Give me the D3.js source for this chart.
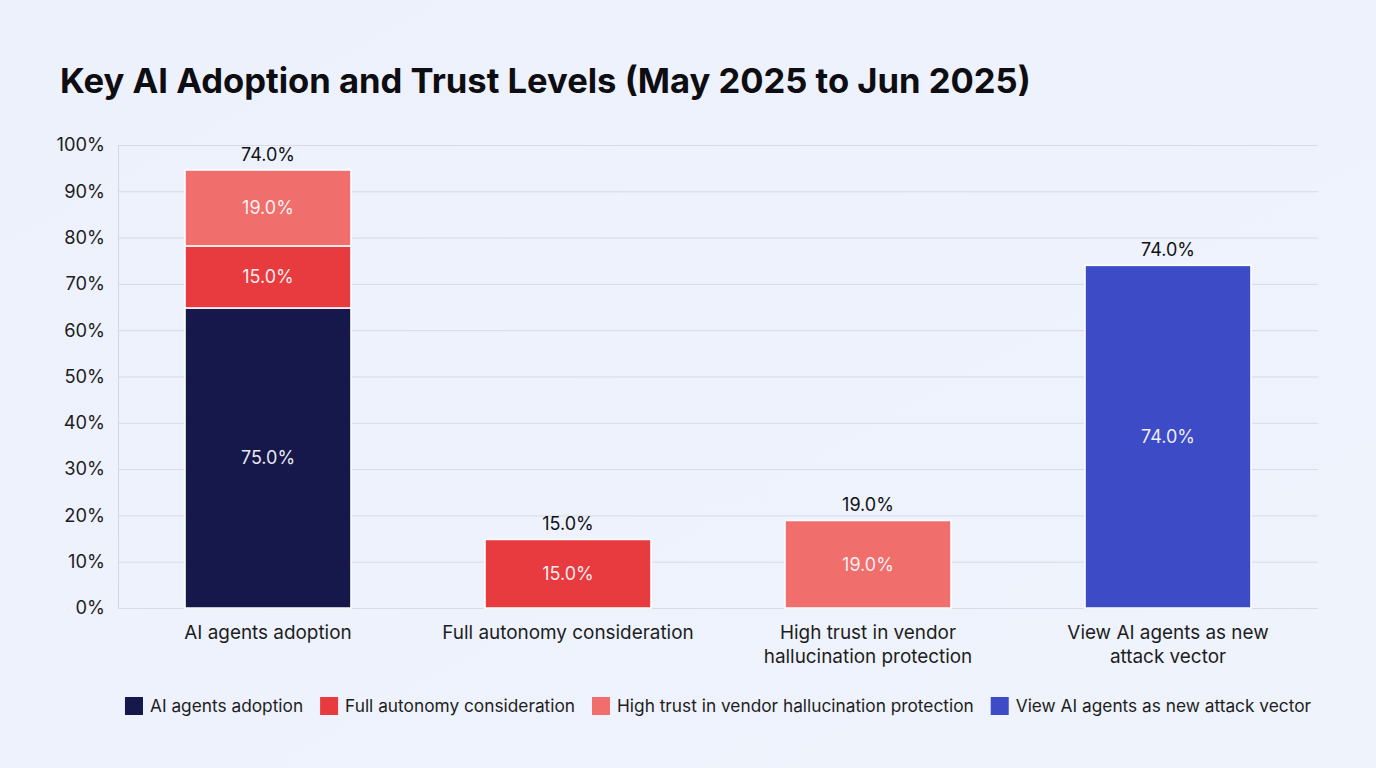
<!DOCTYPE html>
<html>
<head>
<meta charset="utf-8">
<script src="https://cdn.jsdelivr.net/npm/d3@7/dist/d3.min.js"></script>
<style>
  html, body { margin: 0; padding: 0; background: #eef2fc; }
  svg { display: block; }
</style>
</head>
<body>
<svg id="chart" width="1376" height="768"></svg>
<script>
// ---- data ----
const title = "Key AI Adoption and Trust Levels (May 2025 to Jun 2025)";
const categories = [
  ["AI agents adoption"],
  ["Full autonomy consideration"],
  ["High trust in vendor", "hallucination protection"],
  ["View AI agents as new", "attack vector"]
];
const seriesNames = [
  "AI agents adoption",
  "Full autonomy consideration",
  "High trust in vendor hallucination protection",
  "View AI agents as new attack vector"
];
const seriesColors = ["#16184c", "#e83b3f", "#f06e6c", "#3d4bc7"];
// segment heights as drawn, per category, per series
const segHeights = [
  [64.8, 13.4, 16.4, 0],
  [0, 14.8, 0, 0],
  [0, 0, 18.9, 0],
  [0, 0, 0, 74.0]
];
// labels shown inside segments
const segLabels = [
  [75.0, 15.0, 19.0, null],
  [null, 15.0, null, null],
  [null, null, 19.0, null],
  [null, null, null, 74.0]
];
// labels shown above bars
const topLabels = [74.0, 15.0, 19.0, 74.0];
const yTicks = [0, 10, 20, 30, 40, 50, 60, 70, 80, 90, 100];

(function () {
// ---- layout ----
const W = 1376, H = 768;
const mLeft = 118, mRight = 1318, mTop = 145, mBottom = 608;
const font = "Inter, 'Noto Sans', sans-serif";

const svg = d3.select("#chart");

const bg = svg.append("defs").append("linearGradient")
  .attr("id", "bg").attr("x1", 0).attr("y1", 0).attr("x2", 1).attr("y2", 1);
bg.append("stop").attr("offset", "0%").attr("stop-color", "#edf1fc");
bg.append("stop").attr("offset", "100%").attr("stop-color", "#eff3fc");
svg.append("rect").attr("width", W).attr("height", H).attr("fill", "url(#bg)");

svg.append("text")
  .attr("x", 60).attr("y", 93)
  .attr("font-family", font).attr("font-weight", 700)
  .attr("font-size", 34.6).attr("fill", "#0d0d12")
  .text(title);

const x = d3.scaleBand()
  .domain(d3.range(categories.length))
  .range([mLeft, mRight])
  .paddingInner(0.447).paddingOuter(0.2235);

const y = d3.scaleLinear().domain([0, 100]).range([mBottom, mTop]);

// grid
svg.append("g").selectAll("line").data(yTicks).join("line")
  .attr("x1", mLeft).attr("x2", mRight)
  .attr("y1", d => y(d) + 0.5).attr("y2", d => y(d) + 0.5)
  .attr("stroke", "#d8dbe7").attr("stroke-width", 1);
svg.append("line")
  .attr("x1", mLeft + 0.5).attr("x2", mLeft + 0.5)
  .attr("y1", mTop).attr("y2", mBottom)
  .attr("stroke", "#d3d6e2");

// y tick labels
const yAxis = d3.axisLeft(y).tickValues(yTicks).tickFormat(d => d + "%").tickSize(0).tickPadding(13);
const gy = svg.append("g").attr("transform", `translate(${mLeft},0)`).call(yAxis);
gy.select(".domain").remove();
gy.selectAll("text").attr("font-family", font).attr("font-size", 18.3).attr("fill", "#1d1d22");

// stacked bars
const stackData = segHeights.map((row, i) => {
  const o = { i };
  row.forEach((v, j) => o["s" + j] = v);
  return o;
});
const stack = d3.stack().keys(seriesNames.map((_, j) => "s" + j))(stackData);

const barG = svg.append("g");
stack.forEach((layer, j) => {
  layer.forEach((d, i) => {
    if (segHeights[i][j] <= 0) return;
    barG.append("rect")
      .attr("x", x(i)).attr("width", x.bandwidth())
      .attr("y", y(d[1])).attr("height", y(d[0]) - y(d[1]))
      .attr("fill", seriesColors[j])
      .attr("stroke", "#ffffff").attr("stroke-width", 1.5);
    const lab = segLabels[i][j];
    if (lab != null) {
      barG.append("text")
        .attr("x", x(i) + x.bandwidth() / 2)
        .attr("y", (y(d[0]) + y(d[1])) / 2)
        .attr("dy", "0.36em")
        .attr("text-anchor", "middle")
        .attr("font-family", font).attr("font-size", 18)
        .attr("fill", "#ffffff").attr("fill-opacity", 0.92)
        .text(lab.toFixed(1) + "%");
    }
  });
});

// top labels
const totals = segHeights.map(r => d3.sum(r));
svg.append("g").selectAll("text").data(topLabels).join("text")
  .attr("x", (d, i) => x(i) + x.bandwidth() / 2)
  .attr("y", (d, i) => y(totals[i]) - 9)
  .attr("text-anchor", "middle")
  .attr("font-family", font).attr("font-size", 18).attr("fill", "#111116")
  .text(d => d.toFixed(1) + "%");

// category labels
const catG = svg.append("g");
categories.forEach((lines, i) => {
  const t = catG.append("text")
    .attr("x", x(i) + x.bandwidth() / 2)
    .attr("y", 639)
    .attr("text-anchor", "middle")
    .attr("font-family", font).attr("font-size", 18.9).attr("fill", "#1d1d22");
  lines.forEach((ln, k) => {
    t.append("tspan").attr("x", x(i) + x.bandwidth() / 2).attr("dy", k === 0 ? 0 : 24).text(ln);
  });
});

// legend
const legend = svg.append("g");
let cx = 0;
seriesNames.forEach((name, j) => {
  const g = legend.append("g").attr("transform", `translate(${cx},0)`);
  g.append("rect").attr("x", 0).attr("y", -9).attr("width", 18).attr("height", 18)
    .attr("fill", seriesColors[j]);
  const t = g.append("text").attr("x", 25).attr("y", 0).attr("dy", "0.36em")
    .attr("font-family", font).attr("font-size", 17.3).attr("fill", "#1d1d22").text(name);
  const w = 25 + t.node().getComputedTextLength();
  cx += w + 17;
});
const legendW = cx - 17;
legend.attr("transform", `translate(${(mLeft + mRight) / 2 - legendW / 2},706)`);
})();
</script>
</body>
</html>
